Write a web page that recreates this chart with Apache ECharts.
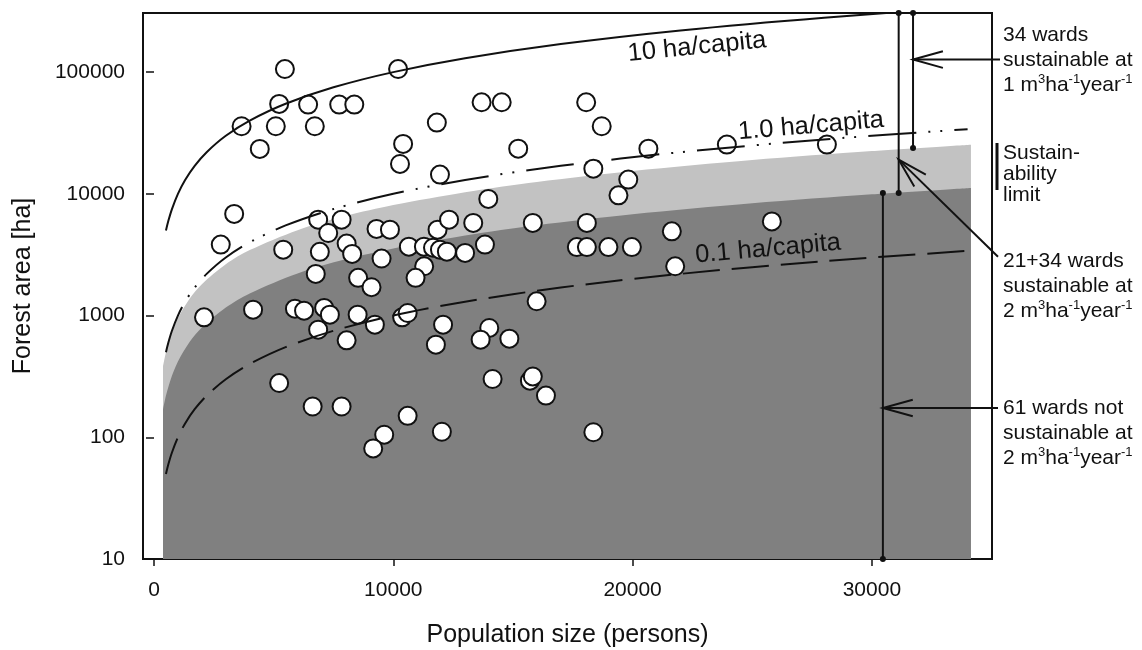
<!DOCTYPE html>
<html>
<head>
<meta charset="utf-8">
<script src="https://cdn.jsdelivr.net/npm/echarts@6/dist/echarts.min.js"></script>
<style>
  html, body { margin: 0; padding: 0; background: #fff; }
  #chart { width: 1142px; height: 650px; }
</style>
</head>
<body>
<div id="chart"></div>
<script>
// wards: population size (persons) and forest area (ha)
const wardPop = [
  5470, 10200, 5230, 6440, 7740, 8370, 3660, 5090, 6720, 4420,
  11820, 10410, 10280, 11950, 3350, 2790, 6860, 7840, 7280, 9300,
  9860, 8050, 11850, 12330, 13340, 15830, 18090, 21640, 25820, 13690,
  14530, 18060, 18710, 15220, 20660, 23940, 28120, 18360, 19820, 19410,
  13970,
  5400, 6930, 8280, 9510, 10650, 11280, 11660, 11950, 12240, 13000,
  13830, 17670, 18090, 18990, 19970, 21780, 6760, 8530, 9090, 11290,
  10930,
  2090, 4140, 5890, 6270, 7110, 7350, 8510, 9230, 10370, 10600,
  12080, 6860, 8050, 11780, 15990, 14010, 13650, 14850,
  5230, 6630, 7840, 10600, 9620, 9160, 12030, 14150, 15710, 15830,
  16380, 18360
];
const wardForest = [
  106000, 106000, 54800, 54100, 54100, 54100, 35900, 35900, 35900, 23400,
  38500, 25700, 17600, 14400, 6840, 3830, 6140, 6140, 4770, 5150,
  5080, 3900, 5080, 6140, 5770, 5770, 5770, 4920, 5940, 56500,
  56500, 56500, 35900, 23500, 23500, 25400, 25400, 16100, 13090, 9720,
  9080,
  3480, 3340, 3210, 2940, 3680, 3680, 3610, 3480, 3350, 3270,
  3830, 3650, 3650, 3650, 3650, 2540, 2200, 2040, 1710, 2540,
  2040,
  967, 1118, 1140, 1097, 1155, 1017, 1017, 842, 967, 1050,
  842, 766, 626, 577, 1310, 791, 634, 646,
  279, 179, 179, 150, 105, 81, 111, 301, 292, 316,
  220, 110
];

// ha/capita reference lines
const capitaX = [500, 600, 750, 1000, 1300, 1700, 2200, 3000, 4000, 5500, 7500, 10000, 13000, 17000, 22000, 28000, 34000];
const tenHa   = [5000, 6000, 7500, 10000, 13000, 17000, 22000, 30000, 40000, 55000, 75000, 100000, 130000, 170000, 220000, 280000, 340000];
const oneHa   = [500, 600, 750, 1000, 1300, 1700, 2200, 3000, 4000, 5500, 7500, 10000, 13000, 17000, 22000, 28000, 34000];
const tenthHa = [50, 60, 75, 100, 130, 170, 220, 300, 400, 550, 750, 1000, 1300, 1700, 2200, 2800, 3400];

// sustainability limits (upper edge of light and dark grey)
const limitX  = [376, 500, 700, 1000, 1500, 2000, 3000, 4000, 6000, 8000, 10000, 13000, 16000, 20000, 25000, 30000, 34140];
const limit1m = [383, 499, 682, 951, 1387, 1812, 2641, 3451, 5033, 6577, 8092, 10330, 12530, 15420, 18980, 22480, 25350];
const limit2m = [169, 220, 300, 419, 611, 798, 1163, 1520, 2216, 2896, 3563, 4547, 5516, 6790, 8360, 9900, 11160];

// marker lines on the right
const markA = [[31120, 306000], [31120, 10170]];
const markB = [[31720, 306000], [31720, 23800]];
const markC = [[30460, 10170], [30460, 10]];
const arrowTips = [[31720, 126800], [31120, 19100], [30460, 174]];

const xTicks = [0, 10000, 20000, 30000];
const yTicks = [10, 100, 1000, 10000, 100000];

const FONT = '"Liberation Sans", Arial, Helvetica, sans-serif';
const INK = '#111';

function zip(xs, ys) {
  return xs.map((x, i) => [x, ys[i]]);
}

const chart = echarts.init(document.getElementById('chart'));

const curve = (name, ys, type) => ({
  name: name,
  type: 'line',
  data: zip(capitaX, ys),
  symbol: 'none',
  smooth: 0.3,
  z: 4,
  lineStyle: { color: INK, width: 2, type: type }
});

const marker = (pts) => ({
  type: 'line',
  data: pts,
  symbol: 'circle',
  symbolSize: 6,
  clip: false,
  z: 5,
  itemStyle: { color: INK },
  lineStyle: { color: INK, width: 2 }
});

chart.setOption({
  animation: false,
  grid: {
    left: 143, top: 13, width: 849, height: 546,
    show: true, borderColor: INK, borderWidth: 2,
    containLabel: false, outerBoundsMode: 'none'
  },
  xAxis: {
    type: 'value',
    min: -460, max: 35020,
    name: 'Population size (persons)',
    nameLocation: 'middle',
    nameGap: 64,
    nameTextStyle: { fontFamily: FONT, fontSize: 25, color: INK },
    axisLine: { show: false },
    splitLine: { show: false },
    axisTick: { show: true, length: 7, customValues: xTicks, lineStyle: { color: INK, width: 1.5 } },
    axisLabel: {
      customValues: xTicks, margin: 21,
      fontFamily: FONT, fontSize: 21, color: INK,
      formatter: v => String(Math.round(v))
    }
  },
  yAxis: {
    type: 'log', logBase: 10,
    min: 10, max: 306000,
    name: 'Forest area [ha]',
    nameLocation: 'middle',
    nameGap: 107,
    nameTextStyle: { fontFamily: FONT, fontSize: 25, color: INK },
    axisLine: { show: false },
    splitLine: { show: false },
    minorTick: { show: false },
    axisTick: { show: true, length: 8, customValues: yTicks, lineStyle: { color: INK, width: 1.5 } },
    axisLabel: {
      customValues: yTicks, margin: 18,
      fontFamily: FONT, fontSize: 21, color: INK,
      formatter: v => String(Math.round(v))
    }
  },
  series: [
    {
      name: '1 m3 limit', type: 'line', data: zip(limitX, limit1m),
      symbol: 'none', smooth: 0.3, z: 1,
      lineStyle: { width: 0 },
      areaStyle: { color: '#c2c2c2', opacity: 1, origin: 'start' }
    },
    {
      name: '2 m3 limit', type: 'line', data: zip(limitX, limit2m),
      symbol: 'none', smooth: 0.3, z: 2,
      lineStyle: { width: 0 },
      areaStyle: { color: '#808080', opacity: 1, origin: 'start' }
    },
    {
      name: 'wards', type: 'scatter', data: zip(wardPop, wardForest),
      symbolSize: 18, z: 3,
      itemStyle: { color: '#fff', borderColor: INK, borderWidth: 2, opacity: 1 }
    },
    curve('10 ha/capita', tenHa, 'solid'),
    curve('1.0 ha/capita', oneHa, [48, 12, 2, 10, 2, 12]),
    curve('0.1 ha/capita', tenthHa, [37, 12]),
    marker(markA),
    marker(markB),
    marker(markC)
  ]
});

// annotations in pixel space, anchored on data points
const px = p => chart.convertToPixel({ gridIndex: 0 }, p);

function arrow(tip, tail) {
  const ang = Math.atan2(tail[1] - tip[1], tail[0] - tip[0]);
  const len = 31, spread = 0.27;
  const h1 = [tip[0] + len * Math.cos(ang + spread), tip[1] + len * Math.sin(ang + spread)];
  const h2 = [tip[0] + len * Math.cos(ang - spread), tip[1] + len * Math.sin(ang - spread)];
  return [
    { type: 'line', shape: { x1: tip[0], y1: tip[1], x2: tail[0], y2: tail[1] }, style: { stroke: INK, lineWidth: 2 }, z: 10 },
    { type: 'polyline', shape: { points: [h1, tip, h2] }, style: { stroke: INK, lineWidth: 2, fill: null }, z: 10 }
  ];
}

const t1 = px(arrowTips[0]), t2 = px(arrowTips[1]), t3 = px(arrowTips[2]);

const sup = { fontSize: 13, verticalAlign: 'top', fontFamily: FONT, fill: INK };
const sideText = (x, y, text, lh) => ({
  type: 'text', x: x, y: y, z: 10,
  style: {
    text: text, fontFamily: FONT, fontSize: 21, fill: INK,
    lineHeight: lh, align: 'left', verticalAlign: 'top',
    rich: { sup: sup }
  }
});

const curveLabel = (x, y, rot, text) => ({
  type: 'text', x: x, y: y, rotation: rot, z: 10,
  style: { text: text, fontFamily: FONT, fontSize: 25.5, fill: INK, align: 'center', verticalAlign: 'middle' }
});

chart.setOption({
  graphic: [
    curveLabel(697, 47, 0.1, '10 ha/capita'),
    curveLabel(811, 126, 0.085, '1.0 ha/capita'),
    curveLabel(768, 249, 0.09, '0.1 ha/capita'),
    ...arrow(t1, [1000, t1[1]]),
    ...arrow(t2, [998, 256.7]),
    ...arrow(t3, [998, t3[1]]),
    { type: 'line', shape: { x1: 997, y1: 143, x2: 997, y2: 190 }, style: { stroke: INK, lineWidth: 3 }, z: 10 },
    sideText(1003, 22.5, '34 wards\nsustainable at\n1 m{sup|3}ha{sup|-1}year{sup|-1}', 25),
    sideText(1003, 143, 'Sustain-\nability\nlimit', 21),
    sideText(1003, 249, '21+34 wards\nsustainable at\n2 m{sup|3}ha{sup|-1}year{sup|-1}', 25),
    sideText(1003, 396, '61 wards not\nsustainable at\n2 m{sup|3}ha{sup|-1}year{sup|-1}', 25)
  ]
});
</script>
</body>
</html>
